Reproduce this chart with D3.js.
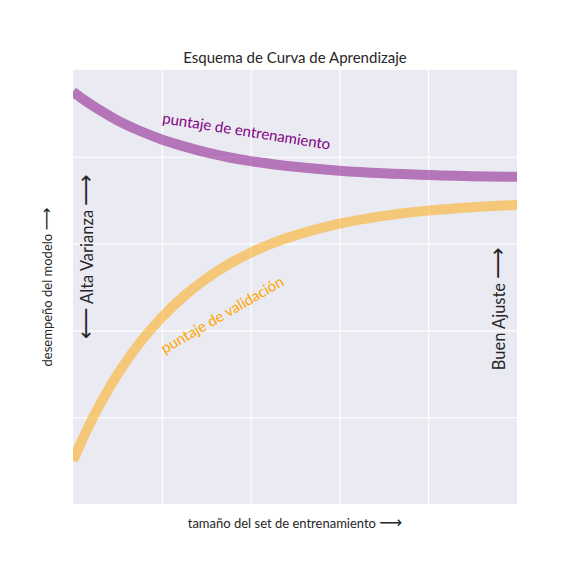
<!DOCTYPE html>
<html>
<head>
<meta charset="utf-8">
<script src="https://cdn.jsdelivr.net/npm/d3@7"></script>
<style>
  body { margin: 0; background: #fff; }
  svg text { font-family: Lato, "DejaVu Sans", sans-serif; fill: #262626; }
  svg tspan.arrow { font-family: "DejaVu Sans", sans-serif; }
</style>
</head>
<body>
<svg id="chart" width="576" height="576"></svg>
<script>
// values
var trainSize = [0, 0.025, 0.05, 0.1, 0.15, 0.2, 0.25, 0.3, 0.35, 0.4, 0.45, 0.5, 0.6, 0.7, 0.8, 0.9, 1.0];
var trainScore = [0.950, 0.931, 0.914, 0.884, 0.860, 0.840, 0.824, 0.810, 0.799, 0.790, 0.783, 0.777, 0.768, 0.762, 0.758, 0.755, 0.754];
var validScore = [0.100, 0.157, 0.209, 0.298, 0.371, 0.430, 0.479, 0.519, 0.552, 0.579, 0.601, 0.619, 0.646, 0.664, 0.676, 0.684, 0.689];
var gridTicks = [0.2, 0.4, 0.6, 0.8];

var title = "Esquema de Curva de Aprendizaje",
    xLabel = "tamaño del set de entrenamiento",
    yLabel = "desempeño del modelo",
    trainLabel = "puntaje de entrenamiento",
    validLabel = "puntaje de validación",
    varianceLabel = "Alta Varianza",
    fitLabel = "Buen Ajuste",
    rightArrow = "\u27F6",
    leftArrow = "\u27F5";

var margin = {top: 70, right: 59, bottom: 72, left: 73},
    svg = d3.select("#chart"),
    width = +svg.attr("width") - margin.left - margin.right,
    height = +svg.attr("height") - margin.top - margin.bottom,
    g = svg.append("g").attr("transform", "translate(" + margin.left + "," + margin.top + ")");

var x = d3.scaleLinear().domain([0, 1]).range([0, width]);
var y = d3.scaleLinear().domain([0, 1]).range([height, 0]);

g.append("rect")
    .attr("width", width)
    .attr("height", height)
    .attr("fill", "#eaeaf2");

// grid lines, no tick labels
g.append("g")
    .attr("transform", "translate(0," + height + ")")
    .call(d3.axisBottom(x).tickValues(gridTicks).tickSize(-height).tickFormat(""))
    .call(function (a) {
        a.select(".domain").remove();
        a.selectAll("line").attr("stroke", "#fff").attr("stroke-width", 1.1);
    });
g.append("g")
    .call(d3.axisLeft(y).tickValues(gridTicks).tickSize(-width).tickFormat(""))
    .call(function (a) {
        a.select(".domain").remove();
        a.selectAll("line").attr("stroke", "#fff").attr("stroke-width", 1.1);
    });

g.append("clipPath").attr("id", "plot-clip")
    .append("rect").attr("width", width).attr("height", height);

var line = function (values) {
    return d3.line()
        .x(function (d, i) { return x(trainSize[i]); })
        .y(function (d) { return y(d); })
        .curve(d3.curveCatmullRom)(values);
};

var curves = g.append("g").attr("clip-path", "url(#plot-clip)");
curves.append("path")
    .attr("d", line(trainScore))
    .attr("fill", "none")
    .attr("stroke", "#800080")
    .attr("stroke-opacity", 0.5)
    .attr("stroke-width", 10);
curves.append("path")
    .attr("d", line(validScore))
    .attr("fill", "none")
    .attr("stroke", "#ffa500")
    .attr("stroke-opacity", 0.5)
    .attr("stroke-width", 10);

// curve labels
g.append("text")
    .attr("transform", "translate(" + x(0.2) + "," + (y(0.88) + 1) + ") rotate(9)")
    .style("font-size", "15px")
    .style("fill", "#800080")
    .text(trainLabel);
g.append("text")
    .attr("transform", "translate(" + (x(0.2) + 3) + "," + (y(0.5) + 67) + ") rotate(-30)")
    .style("font-size", "15px")
    .style("fill", "#ffa500")
    .text(validLabel);

// text with arrows: arrows drawn a bit larger, like the TeX long arrows
function labelWithArrows(sel, before, text, after, size, arrowSize) {
    if (before) {
        sel.append("tspan").attr("class", "arrow").style("font-size", arrowSize).text(before);
        sel.append("tspan").text(" ");
    }
    sel.append("tspan").text(text);
    if (after) {
        sel.append("tspan").text(" ");
        sel.append("tspan").attr("class", "arrow").style("font-size", arrowSize).text(after);
    }
    sel.style("font-size", size);
}

g.append("text")
    .attr("transform", "translate(" + (x(0.02) + 11) + "," + y(0.57) + ") rotate(-90)")
    .attr("text-anchor", "middle")
    .call(labelWithArrows, leftArrow, varianceLabel, rightArrow, "16.5px", "22px");
g.append("text")
    .attr("transform", "translate(" + (x(0.98) - 3) + "," + y(0.45) + ") rotate(-90)")
    .attr("text-anchor", "middle")
    .call(labelWithArrows, null, fitLabel, rightArrow, "16.5px", "22px");

// title and axis labels
svg.append("text")
    .attr("x", margin.left + width / 2)
    .attr("y", 63)
    .attr("text-anchor", "middle")
    .style("font-size", "15px")
    .text(title);
svg.append("text")
    .attr("x", margin.left + width / 2)
    .attr("y", 528)
    .attr("text-anchor", "middle")
    .call(labelWithArrows, null, xLabel, rightArrow, "13px", "16px");
svg.append("text")
    .attr("transform", "translate(52," + (margin.top + height / 2) + ") rotate(-90)")
    .attr("text-anchor", "middle")
    .call(labelWithArrows, null, yLabel, rightArrow, "13px", "16px");
</script>
</body>
</html>
